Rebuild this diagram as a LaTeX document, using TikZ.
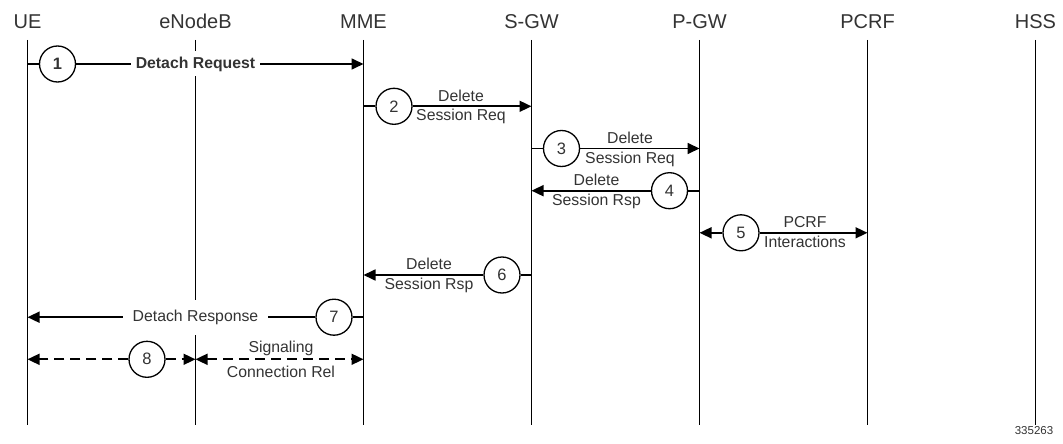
\documentclass[tikz,border=0pt]{standalone}
\usepackage{fontspec}
\setmainfont{Liberation Sans}
\usetikzlibrary{arrows.meta}
\definecolor{txt}{HTML}{333333}
\tikzset{
  hdr/.style={font=\fontsize{20}{24}\selectfont, text=txt, anchor=base, inner sep=0pt},
  life/.style={line width=1.7pt},
  msg/.style={line width=1.7pt},
  arr/.style={msg, -{Triangle[length=12pt,width=11pt]}},
  dbl/.style={msg, {Triangle[length=12pt,width=11pt]}-{Triangle[length=12pt,width=11pt]}},
  dashmsg/.style={dash pattern=on 10pt off 6pt},
  stepc/.style={circle, draw, line width=1.3pt, fill=white, text=txt, minimum size=36pt, inner sep=0pt, font=\fontsize{16.5}{18}\selectfont},
  lbl/.style={font=\fontsize{15.8}{18}\selectfont, text=txt, anchor=base, inner sep=0pt},
  onlife/.style={fill=white, text=txt, inner ysep=0pt, font=\fontsize{15.8}{18}\selectfont, anchor=center},
  fig/.style={font=\fontsize{11.5}{13}\selectfont, text=txt, anchor=center, inner sep=0pt}
}
\begin{document}
\begin{tikzpicture}[x=1pt,y=-1pt]
\useasboundingbox (0,0) rectangle (1063,444);
% headers
\node[hdr] (ue)   at (27.5,29)   {UE};
\node[hdr] (enb)  at (195.5,29)  {eNodeB};
\node[hdr] (mme)  at (363.5,29)  {MME};
\node[hdr] (sgw)  at (531.5,29)  {S-GW};
\node[hdr] (pgw)  at (699.5,29)  {P-GW};
\node[hdr] (pcrf) at (867.5,29)  {PCRF};
\node[hdr] (hss)  at (1035.5,29) {HSS};
% lifelines
\foreach \n/\x in {ue/27.5,enb/195.5,mme/363.5,sgw/531.5,pgw/699.5,pcrf/867.5,hss/1035.5}{
  \coordinate (\n T) at (\x,40);
  \coordinate (\n B) at (\x,425);
  \draw[life] (\n T) -- (\n B);
}
% step circles
\node[stepc, font=\fontsize{16.5}{18}\selectfont\bfseries] (c1) at (57.5,64) {1};
\node[stepc] (c2) at (394,106.3) {2};
\node[stepc] (c3) at (561.5,148.5) {3};
\node[stepc] (c4) at (669.5,190.7) {4};
\node[stepc] (c5) at (741,232.8) {5};
\node[stepc] (c6) at (502,275) {6};
\node[stepc] (c7) at (334,317.2) {7};
\node[stepc] (c8) at (147,359.3) {8};
% 1
\draw[msg] (ueT |- c1) -- (c1);
\draw[arr] (c1) -- (mmeT |- c1);
\node[onlife, inner xsep=5pt, minimum height=25pt, font=\fontsize{15.8}{18}\selectfont\bfseries] (l1) at (195.5,64) {Detach Request};
% 2
\draw[msg] (mmeT |- c2) -- (c2);
\draw[arr] (c2) -- (sgwT |- c2);
\node[lbl] (l2a) at (461,101) {Delete};
\node[lbl] (l2b) at (461,120.8) {Session Req};
% 3
\draw[msg] (sgwT |- c3) -- (c3);
\draw[arr] (c3) -- (pgwT |- c3);
\node[lbl] (l3a) at (630,143.2) {Delete};
\node[lbl] (l3b) at (630,163) {Session Req};
% 4
\draw[msg] (pgwT |- c4) -- (c4);
\draw[arr] (c4) -- (sgwT |- c4);
\node[lbl] (l4a) at (596.5,185.3) {Delete};
\node[lbl] (l4b) at (596.5,205.1) {Session Rsp};
% 5
\draw[arr] (c5) -- (pgwT |- c5);
\draw[arr] (c5) -- (pcrfT |- c5);
\node[lbl] (l5a) at (805,227.3) {PCRF};
\node[lbl] (l5b) at (805,247.3) {Interactions};
% 6
\draw[msg] (sgwT |- c6) -- (c6);
\draw[arr] (c6) -- (mmeT |- c6);
\node[lbl] (l6a) at (429,269.8) {Delete};
\node[lbl] (l6b) at (429,289.5) {Session Rsp};
% 7
\draw[msg] (mmeT |- c7) -- (c7);
\draw[arr] (c7) -- (ueT |- c7);
\node[onlife, inner xsep=9.5pt, minimum height=35pt] (l7) at (195.5,317.2) {Detach Response};
% 8
\draw[arr, dashmsg] (c8) -- (ueT |- c8);
\draw[arr, dashmsg] (c8) -- (enbT |- c8);
\draw[dbl, dashmsg] (enbT |- c8) -- (mmeT |- c8);
\node[lbl] (l8a) at (281,352.8) {Signaling};
\node[lbl] (l8b) at (281,377.3) {Connection Rel};
% figure number
\node[fig] (num) at (1034,430.5) {335263};
\end{tikzpicture}
\end{document}
